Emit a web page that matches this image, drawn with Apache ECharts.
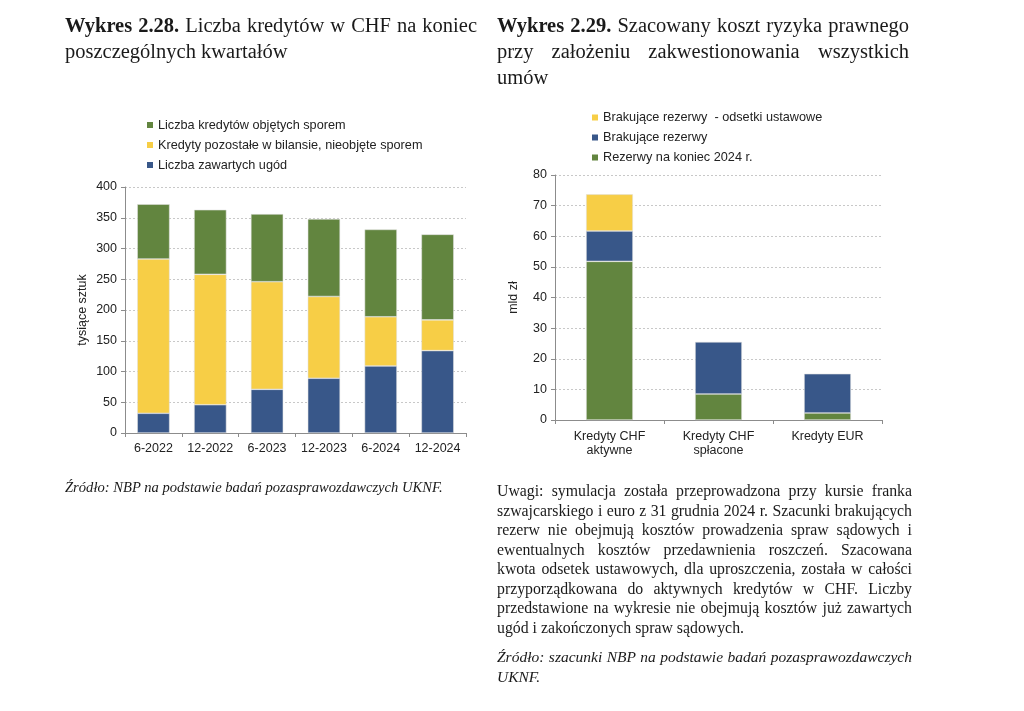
<!DOCTYPE html>
<html><head><meta charset="utf-8">
<script src="https://cdn.jsdelivr.net/npm/echarts@6/dist/echarts.min.js"></script>
<style>
html,body{margin:0;padding:0;background:#fff;width:1024px;height:711px;overflow:hidden;}
#chart{position:absolute;left:0;top:0;width:1024px;height:711px;}
.txt{position:absolute;font-family:"Liberation Serif","DejaVu Serif",serif;color:#1a1a1a;}
.ttl{font-size:20.5px;line-height:26px;}
.j{text-align:justify;text-align-last:justify;white-space:nowrap;}
.note{font-size:15.8px;line-height:19.5px;}
.src{font-style:italic;font-size:14.6px;line-height:19.5px;}
</style></head><body>
<div id="chart"></div>
<div class="txt ttl" style="left:65px;top:12px;width:412px;">
  <div class="j"><b>Wykres 2.28.</b> Liczba kredytów w CHF na koniec</div>
  <div>poszczególnych kwartałów</div>
</div>
<div class="txt ttl" style="left:497px;top:12px;width:412px;">
  <div class="j"><b>Wykres 2.29.</b> Szacowany koszt ryzyka prawnego</div>
  <div class="j">przy założeniu zakwestionowania wszystkich</div>
  <div>umów</div>
</div>
<div class="txt src" style="left:65px;top:478px;">Źródło: NBP na podstawie badań pozasprawozdawczych UKNF.</div>
<div class="txt note" style="left:497px;top:481px;width:415px;">
  <div class="j">Uwagi: symulacja została przeprowadzona przy kursie franka</div>
  <div class="j">szwajcarskiego i euro z 31 grudnia 2024 r. Szacunki brakujących</div>
  <div class="j">rezerw nie obejmują kosztów prowadzenia spraw sądowych i</div>
  <div class="j">ewentualnych kosztów przedawnienia roszczeń. Szacowana</div>
  <div class="j">kwota odsetek ustawowych, dla uproszczenia, została w całości</div>
  <div class="j">przyporządkowana do aktywnych kredytów w CHF. Liczby</div>
  <div class="j">przedstawione na wykresie nie obejmują kosztów już zawartych</div>
  <div>ugód i zakończonych spraw sądowych.</div>
</div>
<div class="txt src" style="left:497px;top:647px;width:415px;font-size:15.5px;">
  <div class="j">Źródło: szacunki NBP na podstawie badań pozasprawozdawczych</div>
  <div>UKNF.</div>
</div>
<script>
// ---- Data: Wykres 2.28 ----
const leftCats = ['6-2022','12-2022','6-2023','12-2023','6-2024','12-2024'];
const leftSettled = [32, 46, 71, 89, 109, 134];      // Liczba zawartych ugód
const leftOther = [251, 212, 175, 133, 80, 50];       // Kredyty pozostałe w bilansie, nieobjęte sporem
const leftDisputed = [89, 105, 110, 126, 142, 139];   // Liczba kredytów objętych sporem
const leftTicks = [0, 50, 100, 150, 200, 250, 300, 350, 400];
// ---- Data: Wykres 2.29 ----
const rightCats = ['Kredyty CHF\naktywne', 'Kredyty CHF\nspłacone', 'Kredyty EUR'];
const rightReserves = [51.8, 8.5, 2.3];   // Rezerwy na koniec 2024 r.
const rightMissing = [9.9, 17.0, 12.8];   // Brakujące rezerwy
const rightInterest = [12.0, null, null]; // Brakujące rezerwy - odsetki ustawowe
const rightTicks = [0, 10, 20, 30, 40, 50, 60, 70, 80];

const GREEN = '#62853f', YELLOW = '#f7ce46', BLUE = '#385789';
const FONT = 'Liberation Sans';
const chart = echarts.init(document.getElementById('chart'));
const axisCommon = {
  axisLine: {show: true, lineStyle: {color: '#8c8c8c'}},
  axisTick: {show: true, length: 4, lineStyle: {color: '#8c8c8c'}},
  axisLabel: {color: '#222', fontSize: 12.5, fontFamily: FONT},
};
const yAxisCommon = Object.assign({}, axisCommon, {
  type: 'value',
  splitLine: {show: true, lineStyle: {color: '#c8c8c8', type: [2, 2], width: 1}},
  nameLocation: 'middle',
  nameTextStyle: {color: '#222', fontSize: 12.5, fontFamily: FONT},
});
const barStyle = c => ({color: c, borderColor: 'rgba(225,225,225,0.9)', borderWidth: 0.6});
const legendCommon = {orient: 'vertical', padding: 0, itemWidth: 6, itemHeight: 6, itemGap: 7, icon: 'rect',
  itemStyle: {borderWidth: 0},
  textStyle: {fontSize: 12.7, fontFamily: FONT, color: '#222', lineHeight: 13}};
chart.setOption({
  animation: false,
  grid: [
    {left: 125, top: 187, width: 341, height: 246},
    {left: 555, top: 175, width: 327, height: 245}
  ],
  legend: [
    Object.assign({}, legendCommon, {left: 147, top: 118.5,
     data: ['Liczba kredytów objętych sporem', 'Kredyty pozostałe w bilansie, nieobjęte sporem', 'Liczba zawartych ugód']}),
    Object.assign({}, legendCommon, {left: 592, top: 111,
     data: ['Brakujące rezerwy  - odsetki ustawowe', 'Brakujące rezerwy', 'Rezerwy na koniec 2024 r.']})
  ],
  xAxis: [
    Object.assign({}, axisCommon, {type: 'category', gridIndex: 0, data: leftCats,
      axisLabel: Object.assign({}, axisCommon.axisLabel, {margin: 9, interval: 0})}),
    Object.assign({}, axisCommon, {type: 'category', gridIndex: 1, data: rightCats,
      axisLabel: Object.assign({}, axisCommon.axisLabel, {margin: 10, interval: 0, lineHeight: 14})})
  ],
  yAxis: [
    Object.assign({}, yAxisCommon, {gridIndex: 0, min: leftTicks[0], max: leftTicks[leftTicks.length-1], interval: 50,
      name: 'tysiące sztuk', nameGap: 36}),
    Object.assign({}, yAxisCommon, {gridIndex: 1, min: rightTicks[0], max: rightTicks[rightTicks.length-1], interval: 10,
      name: 'mld zł', nameGap: 35})
  ],
  series: [
    {name: 'Liczba zawartych ugód', type: 'bar', stack: 'L', xAxisIndex: 0, yAxisIndex: 0, barWidth: '57%', data: leftSettled, itemStyle: barStyle(BLUE)},
    {name: 'Kredyty pozostałe w bilansie, nieobjęte sporem', type: 'bar', stack: 'L', xAxisIndex: 0, yAxisIndex: 0, data: leftOther, itemStyle: barStyle(YELLOW)},
    {name: 'Liczba kredytów objętych sporem', type: 'bar', stack: 'L', xAxisIndex: 0, yAxisIndex: 0, data: leftDisputed, itemStyle: barStyle(GREEN)},
    {name: 'Rezerwy na koniec 2024 r.', type: 'bar', stack: 'R', xAxisIndex: 1, yAxisIndex: 1, barWidth: '43%', data: rightReserves, itemStyle: barStyle(GREEN)},
    {name: 'Brakujące rezerwy', type: 'bar', stack: 'R', xAxisIndex: 1, yAxisIndex: 1, data: rightMissing, itemStyle: barStyle(BLUE)},
    {name: 'Brakujące rezerwy  - odsetki ustawowe', type: 'bar', stack: 'R', xAxisIndex: 1, yAxisIndex: 1, data: rightInterest, itemStyle: barStyle(YELLOW)}
  ]
});
</script>
</body></html>
